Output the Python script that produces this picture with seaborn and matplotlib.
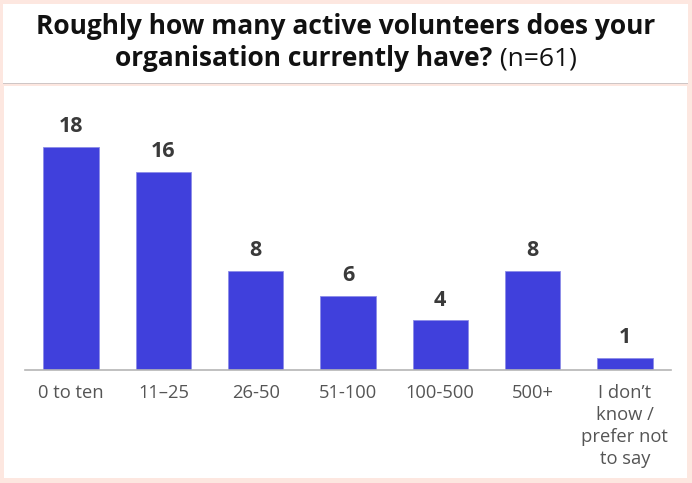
import matplotlib
matplotlib.use("Agg")
import matplotlib.pyplot as plt
from matplotlib.patches import Rectangle
import seaborn as sns
import pandas as pd

categories = ["0 to ten", "11\u201325", "26-50", "51-100", "100-500", "500+",
              "I don\u2019t\nknow /\nprefer not\nto say"]
counts = [18, 16, 8, 6, 4, 8, 1]
title_bold = "Roughly how many active volunteers does your"
title_line2_bold = "organisation currently have?"
title_line2_reg = " (n=61)"

BAR_COLOR = "#4040DC"
BG_PINK = "#FDE7E0"
FONT = ["Open Sans", "DejaVu Sans"]

sns.set_theme(style="white")
plt.rcParams["font.family"] = FONT

W, H = 692, 483
fig = plt.figure(figsize=(W / 100, H / 100), dpi=100)
fig.patch.set_facecolor(BG_PINK)

# title card and chart panel backgrounds
for (x, y, w, h, col) in [(3, 83, 685, 79, "white"),
                          (3, 84.2, 685, 1.2, "#cfc6c6"),
                          (4, 478, 683, 392, "white")]:
    fig.patches.append(Rectangle((x / W, 1 - y / H), w / W, h / H,
                                 transform=fig.transFigure, facecolor=col,
                                 edgecolor="none", zorder=-5))

ax = fig.add_axes([25 / W, 1 - 370 / H, 646 / W, (370 - 95) / H])
ax.set_facecolor("none")
ax.set_zorder(2)

df = pd.DataFrame({"category": categories, "count": counts})
sns.barplot(data=df, x="category", y="count", color=BAR_COLOR, width=0.6,
            saturation=1, edgecolor="#8c8ce8", linewidth=0.6, ax=ax)

ax.set_xlim(-0.5, len(categories) - 0.5)
ax.set_ylim(0, (370 - 95) / 12.4)
for c in ax.containers:
    ax.bar_label(c, labels=[str(v) for v in counts], padding=7,
                 fontsize=15.5, fontweight="bold", color="#3a3a3a")

for s in ["top", "right", "left"]:
    ax.spines[s].set_visible(False)
ax.spines["bottom"].set_color("#b5b5b5")
ax.spines["bottom"].set_linewidth(1.2)
ax.set_yticks([])
ax.set_xlabel("")
ax.set_ylabel("")
ax.tick_params(axis="x", length=0, pad=10, labelsize=13.2, labelcolor="#555555")
for lbl in ax.get_xticklabels():
    lbl.set_linespacing(1.3)
    lbl.set_verticalalignment("top")

# title: bold first line, second line mixes bold and regular
fig.text(0.5, 1 - 27 / H, title_bold, ha="center", va="center",
         fontsize=19, fontweight="bold", color="#111111")
renderer = fig.canvas.get_renderer()
t1 = fig.text(0, 1 - 59 / H, title_line2_bold, ha="left", va="center",
              fontsize=19, fontweight="bold", color="#111111")
t2 = fig.text(0, 1 - 59 / H, title_line2_reg, ha="left", va="center",
              fontsize=19, color="#111111")
w1 = t1.get_window_extent(renderer).width
w2 = t2.get_window_extent(renderer).width
x0 = (W - (w1 + w2)) / 2
t1.set_x(x0 / W)
t2.set_x((x0 + w1) / W)

fig.savefig("out.png", dpi=100, facecolor=fig.get_facecolor())
